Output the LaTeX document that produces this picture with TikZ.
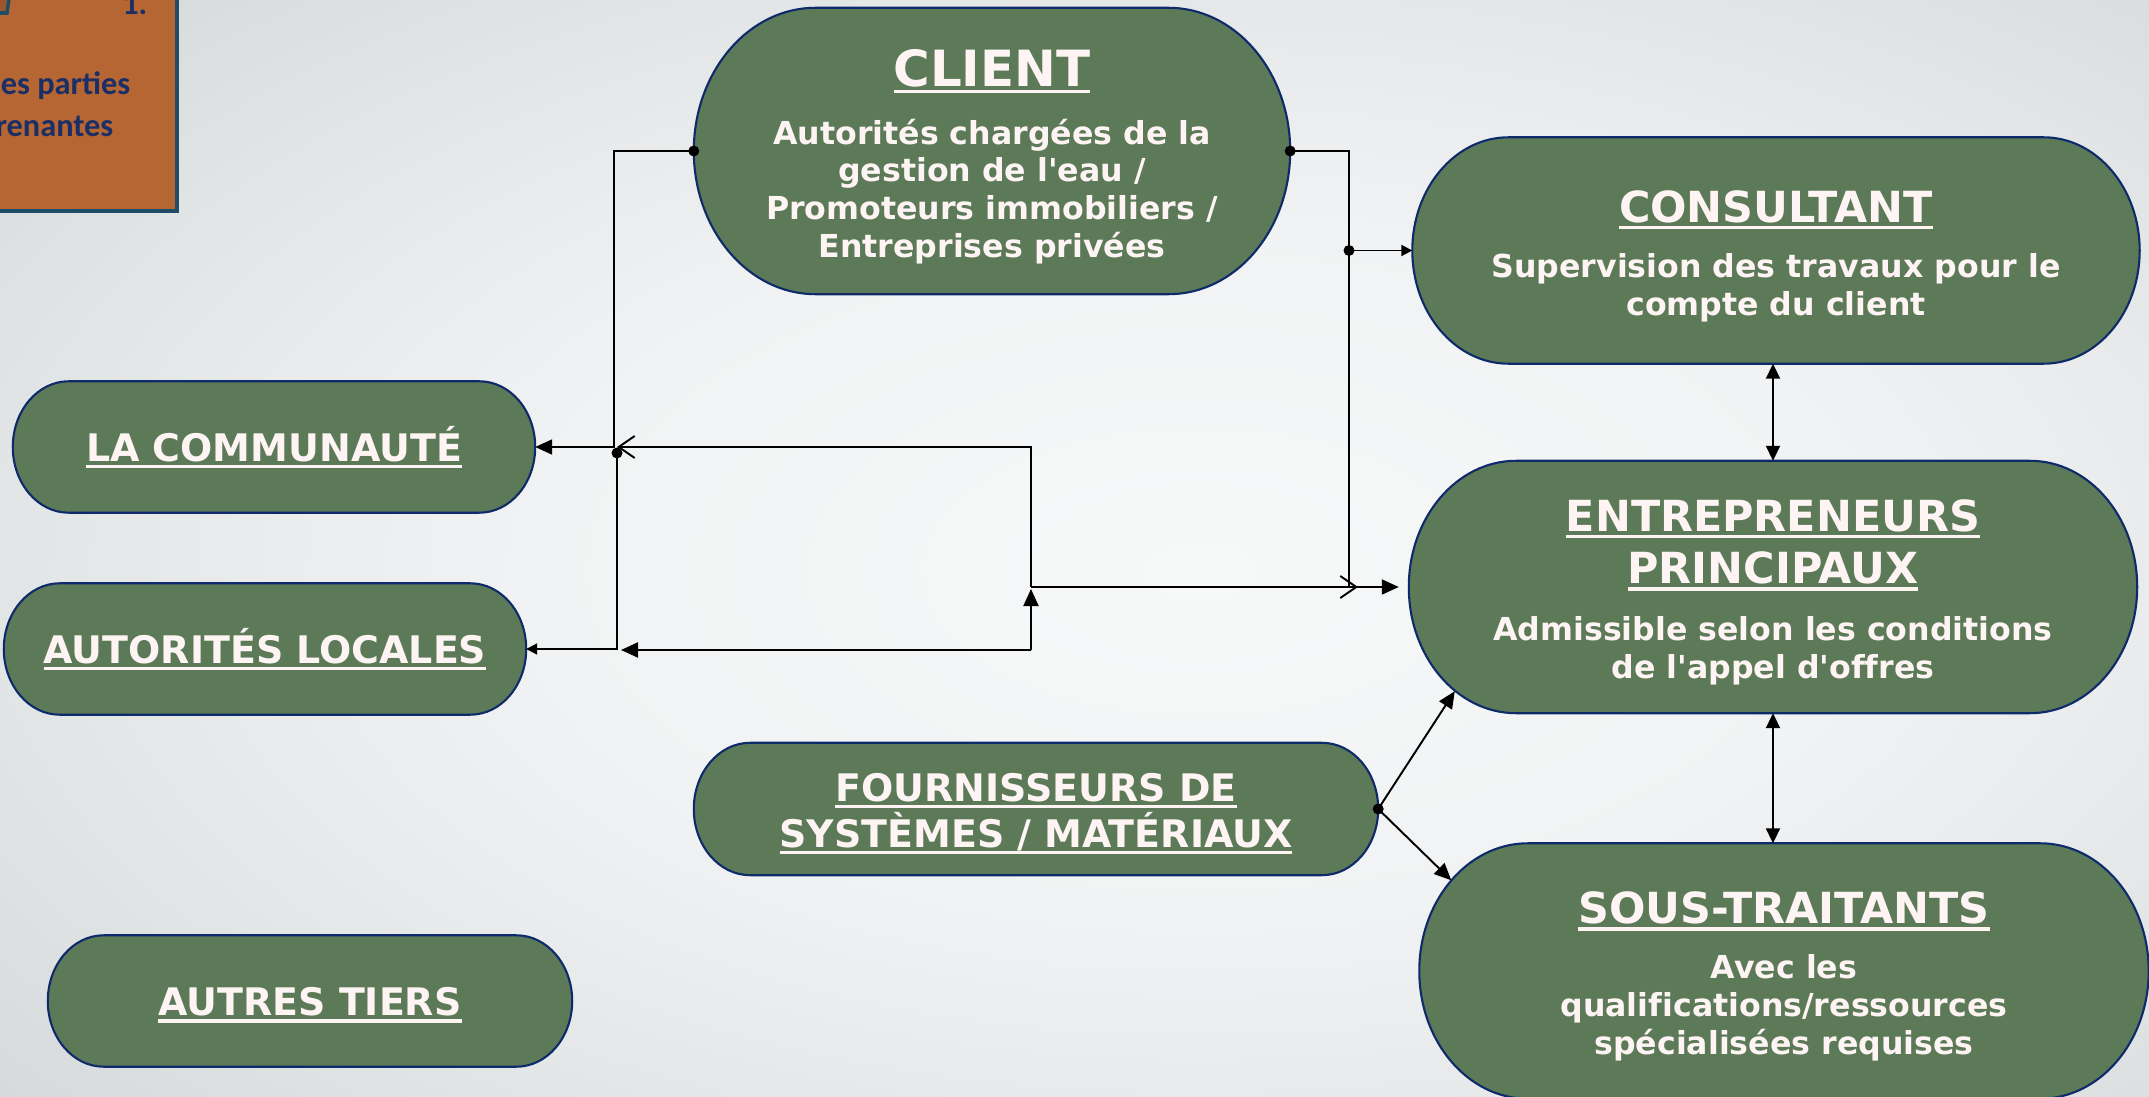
\documentclass[tikz,border=0pt]{standalone}
\usepackage{fontspec}
\setmainfont{DejaVu Sans}[Ligatures={TeXOff,NoCommon}]
\newfontfamily\cardfont{Carlito}
\usetikzlibrary{arrows.meta,backgrounds,calc}

\definecolor{partyfill}{HTML}{5C7A58}
\definecolor{partyline}{HTML}{0E2A6B}
\definecolor{partytext}{HTML}{FFF4F4}
\definecolor{cardfill}{HTML}{B56633}
\definecolor{cardline}{HTML}{1F4D68}
\definecolor{cardink}{HTML}{1B2F66}
\definecolor{bgA}{HTML}{F7F8F8}
\definecolor{bgB}{HTML}{F1F2F3}
\definecolor{bgC}{HTML}{E2E5E6}
\definecolor{bgD}{HTML}{D2D5D7}
\pgfdeclareradialshading{slideshade}{\pgfpoint{0bp}{0bp}}{color(0bp)=(bgA); color(14bp)=(bgB); color(25bp)=(bgC); color(36bp)=(bgD); color(50bp)=(bgD)}

\newcommand\ulined[1]{\setbox0=\hbox{#1}\rlap{\rule[-1.9pt]{\wd0}{0.9pt}}\box0}
\newcommand\bigtitle[1]{{\fontsize{14.2}{16}\selectfont\ulined{#1}}}
\newcommand\midtitle[1]{{\fontsize{12.2}{14}\selectfont\ulined{#1}}}
\newcommand\lift[1]{\rule{0pt}{#1}}

\begin{document}
\begin{tikzpicture}[
    party/.style={rectangle, inner sep=0pt, align=center, text=partytext,
      font=\fontsize{9}{10.8}\selectfont\bfseries},
    sideparty/.style={party, minimum width=5.21cm, minimum height=1.30cm,
      font=\fontsize{10.8}{13.1}\selectfont\bfseries},
    partyshape/.style={fill=partyfill, draw=partyline, line width=0.6pt},
    cardtext/.style={inner sep=0pt, text=cardink,
      font=\cardfont\bfseries\fontsize{9.2}{11}\selectfont},
    wire/.style={line width=0.55pt},
    head/.style={-{Triangle[length=1.7mm,width=1.5mm]}},
    smallhead/.style={-{Triangle[length=1.1mm,width=1.1mm]}},
    openhead/.style={-{Straight Barb[length=1.6mm,width=2.2mm]}},
    twohead/.style={{Triangle[length=1.5mm,width=1.4mm]}-{Triangle[length=1.5mm,width=1.4mm]}}
  ]
    \useasboundingbox (0,0) rectangle (21.49,10.96);

    %% title card, cut by the page edge
    \draw[fill=cardfill, draw=cardline, line width=1pt] (-0.2,8.85) rectangle (1.77,11.2);
    \draw[fill=cardfill!85!black, draw=cardline, line width=1pt] (-0.3,11.2) -- (0.12,11.2) -- (0.07,10.83) -- (-0.3,10.83) -- cycle;
    \node[cardtext, anchor=base east] (num) at (1.48,10.81) {1.};
    \node[cardtext, anchor=base east] (cardA) at (1.31,10.01) {es parties};
    \node[cardtext, anchor=base east] (cardB) at (1.14,9.59) {renantes};

    %% parties
    \node[party, minimum width=5.95cm, minimum height=2.85cm] (client) at (9.92,9.45)
      {\lift{13.8pt}\bigtitle{CLIENT}\\[5.7pt]
       Autorités chargées de la\\gestion de l'eau /\\Promoteurs immobiliers /\\Entreprises privées};
    \node[party, minimum width=7.26cm, minimum height=2.25cm] (consult) at (17.76,8.455)
      {\lift{12.3pt}\midtitle{CONSULTANT}\\[4.8pt]
       Supervision des travaux pour le\\compte du client};
    \node[party, minimum width=7.27cm, minimum height=2.51cm] (entr) at (17.73,5.09)
      {\lift{12.3pt}\midtitle{ENTREPRENEURS}\\[2.9pt]\midtitle{PRINCIPAUX}\\[5.4pt]
       Admissible selon les conditions\\de l'appel d'offres};
    \node[party, minimum width=7.28cm, minimum height=2.54cm] (sous) at (17.84,1.25)
      {\lift{12.3pt}\midtitle{SOUS-TRAITANTS}\\[4.8pt]
       Avec les\\qualifications/ressources\\spécialisées requises};
    \node[sideparty] (comm) at (2.74,6.49) {\ulined{LA COMMUNAUTÉ}};
    \node[sideparty] (autloc) at (2.65,4.47) {\ulined{AUTORITÉS LOCALES}};
    \node[sideparty, minimum width=5.23cm] (autres) at (3.10,0.95) {\lift{10.4pt}\ulined{AUTRES TIERS}};
    \node[sideparty, minimum width=6.83cm, minimum height=1.31cm] (fourn) at (10.36,2.87)
      {\lift{10.6pt}\ulined{FOURNISSEURS DE}\\\ulined{SYSTÈMES / MATÉRIAUX}};

    \begin{scope}[on background layer]
      %% slide background
      \shade[shading=slideshade] (0,-1) rectangle (24,11.5);
      %% rounded ends
      \foreach \nd in {client,consult,entr,sous,comm,autloc,autres,fourn}
        \draw[partyshape] let \p1=(\nd.north west), \p2=(\nd.south east) in
          ({\x1+0.425*(\y1-\y2)},\y1) -- ({\x2-0.425*(\y1-\y2)},\y1)
          arc[start angle=90, end angle=-90, x radius={0.425*(\y1-\y2)}, y radius={0.5*(\y1-\y2)}]
          -- ({\x1+0.425*(\y1-\y2)},\y2)
          arc[start angle=270, end angle=90, x radius={0.425*(\y1-\y2)}, y radius={0.5*(\y1-\y2)}]
          -- cycle;
    \end{scope}

    %% junctions
    \coordinate (lj) at (6.17,6.43);
    \coordinate (hub) at (10.31,5.09);
    \coordinate (hublow) at (10.31,4.46);
    \coordinate (lowtip) at (6.21,4.46);
    \coordinate (rj) at (13.49,8.455);
    \coordinate (rdrop) at (13.58,5.09);

    %% left side
    \draw[wire, head] (client.west) -- ++(-0.8,0) |- (comm.east);
    \draw[wire, smallhead] (lj) |- (autloc.east);
    \draw[wire, openhead] (hub) |- (lj |- comm.east);
    \draw[wire, head] (hublow) -- (lowtip);
    \draw[wire, head] (hublow) -- ($(hub)+(0,-0.02)$);

    %% right side
    \draw[wire, openhead] (client.east) -- (rj |- client.east) -- (rj |- hub) -- (rdrop);
    \draw[wire, smallhead] (rj) -- (consult.west);
    \draw[wire, head, shorten >=0.1cm] (hub) -- (entr.west);
    \draw[wire, twohead] (consult.south -| entr.north) -- (entr.north);
    \draw[wire, twohead] (entr.south) -- (entr.south |- sous.north);
    \draw[wire, head] (fourn.east) -- ($(entr.south west)+(0.46,0.22)$);
    \draw[wire, head] (fourn.east) -- ($(sous.north west)+(0.32,-0.37)$);

    %% dots
    \foreach \pt in {client.west,client.east,fourn.east,lj,rj}
      \fill (\pt) circle (0.055);
\end{tikzpicture}
\end{document}
